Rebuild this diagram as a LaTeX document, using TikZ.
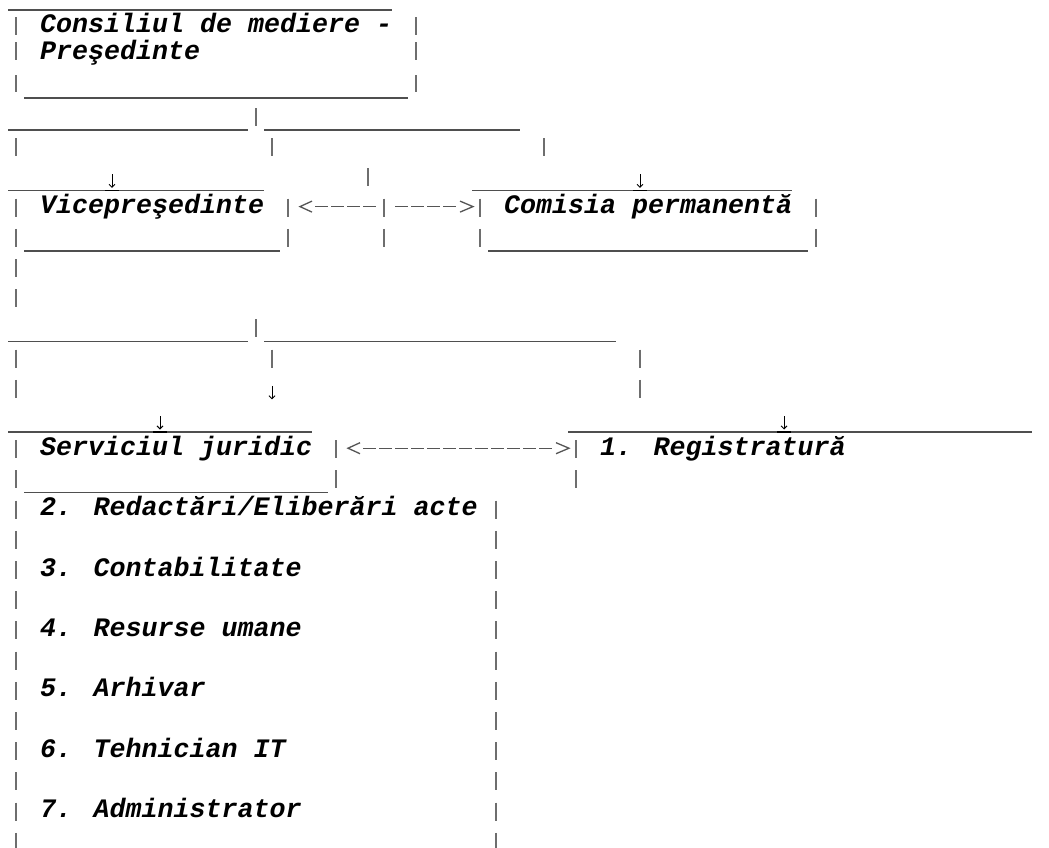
\documentclass[tikz,border=0pt]{standalone}
\usepackage{fontspec}
\newfontfamily\labfont{Liberation Mono}
\usetikzlibrary{arrows.meta}
\definecolor{barcol}{HTML}{6E6E6E}
\definecolor{ulcol}{HTML}{4F4F4F}
\definecolor{dashcol}{HTML}{555555}
\tikzset{
  vbar/.style={draw=barcol, line width=1.8pt},
  ulst/.style={draw=ulcol, line width=1.5pt},
  ulblack/.style={draw=black, line width=1.5pt},
  dashst/.style={draw=dashcol, line width=1.3pt, line join=miter},
  downst/.style={draw=black, line width=0.9pt, -{Straight Barb[length=3pt,width=6pt]}},
  lab/.style={anchor=base west, inner sep=0pt, text=black,
    font=\labfont\bfseries\itshape\fontsize{26.67}{30}\selectfont}
}
% col c: cell start 8+16c, centre 16+16c ; grid row n: top 108+30.2n
\newcommand\myvb[2]{\draw[vbar] ({16+16*(#1)},{108+30.2*(#2)}) -- ({16+16*(#1)},{126+30.2*(#2)});}
\newcommand\myhl[3]{\draw[ulst] ({8+16*(#1)},{130+30.2*(#3)}) -- ({24+16*(#2)},{130+30.2*(#3)});}
\newcommand\mydown[2]{\draw[downst] ({16+16*(#1)},{114+30.2*(#2)}) -- ({16+16*(#1)},{127.5+30.2*(#2)});}
\newcommand\myunder[2]{\draw[ulblack] ({9+16*(#1)},{130+30.2*(#2)}) -- ({23+16*(#1)},{130+30.2*(#2)});}
\newcommand\mydash[2]{\draw[dashst] ({11+16*(#1)},{116+30.2*(#2)}) -- ({24+16*(#1)},{116+30.2*(#2)});}
\newcommand\myleft[2]{\draw[dashst] ({24+16*(#1)},{110.5+30.2*(#2)}) -- ({12+16*(#1)},{116+30.2*(#2)}) -- ({24+16*(#1)},{121.5+30.2*(#2)});}
\newcommand\myright[2]{\draw[dashst] ({12+16*(#1)},{110.5+30.2*(#2)}) -- ({25+16*(#1)},{116+30.2*(#2)}) -- ({12+16*(#1)},{121.5+30.2*(#2)});}
\begin{document}
\begin{tikzpicture}[x=1pt,y=-1pt]
\useasboundingbox[fill=white] (0,0) rectangle (1049,847);

% ---- box 1: Consiliul de mediere - Presedinte
\draw[ulst] (8,10) -- (392,10);
\draw[vbar] (16,17) -- (16,35);  \draw[vbar] (416,17) -- (416,35);
\node[lab] (pres1) at (40,32) {Consiliul de mediere -};
\draw[vbar] (16,42) -- (16,60);  \draw[vbar] (416,42) -- (416,60);
\node[lab] (pres2) at (40,59.5) {Preşedinte};
\draw[vbar] (16,75) -- (16,92);  \draw[vbar] (416,75) -- (416,92);
\draw[ulst] (24,98) -- (408,98);

% ---- row 0
\myhl{0}{14}{0} \myvb{15}{0} \myhl{16}{31}{0}
% ---- row 1
\myvb{0}{1} \myvb{16}{1} \myvb{33}{1}
% ---- row 2
\myvb{22}{2}
\myhl{0}{15}{2} \myunder{6}{2} \mydown{6}{2}
\myhl{29}{48}{2} \myunder{39}{2} \mydown{39}{2}
% ---- row 3
\foreach \c in {0,17,23,29,50} {\myvb{\c}{3}}
\node[lab] (vice) at (40,{123+30.2*3}) {Vicepreşedinte};
\node[lab] (comisia) at (504,{123+30.2*3}) {Comisia permanentă};
\myleft{18}{3}
\foreach \c in {19,20,21,22,24,25,26,27} {\mydash{\c}{3}}
\myright{28}{3}
% ---- row 4
\foreach \c in {0,17,23,29,50} {\myvb{\c}{4}}
\myhl{1}{16}{4} \myhl{30}{49}{4}
% ---- rows 5,6
\myvb{0}{5} \myvb{0}{6}
% ---- row 7
\myhl{0}{14}{7} \myvb{15}{7} \myhl{16}{37}{7}
% ---- row 8
\myvb{0}{8} \myvb{16}{8} \myvb{39}{8}
% ---- row 9
\myvb{0}{9} \mydown{16}{9} \myvb{39}{9}
% ---- row 10
\myhl{0}{18}{10} \myunder{9}{10} \mydown{9}{10}
\myhl{35}{63}{10} \myunder{48}{10} \mydown{48}{10}
% ---- row 11
\foreach \c in {0,20,35} {\myvb{\c}{11}}
\node[lab] (juridic) at (40,{123+30.2*11}) {Serviciul juridic};
\node[lab] (reg) at (600,{123+30.2*11}) {1. Registratură};
\myleft{21}{11}
\foreach \c in {22,...,33} {\mydash{\c}{11}}
\myright{34}{11}
% ---- row 12
\foreach \c in {0,20,35} {\myvb{\c}{12}}
\myhl{1}{19}{12}
% ---- rows 13..24
\foreach \r in {13,...,24} {\myvb{0}{\r} \myvb{30}{\r}}
\node[lab] (s2) at (40,{123+30.2*13}) {2. Redactări/Eliberări acte};
\node[lab] (s3) at (40,{123+30.2*15}) {3. Contabilitate};
\node[lab] (s4) at (40,{123+30.2*17}) {4. Resurse umane};
\node[lab] (s5) at (40,{123+30.2*19}) {5. Arhivar};
\node[lab] (s6) at (40,{123+30.2*21}) {6. Tehnician IT};
\node[lab] (s7) at (40,{123+30.2*23}) {7. Administrator};
\end{tikzpicture}
\end{document}
